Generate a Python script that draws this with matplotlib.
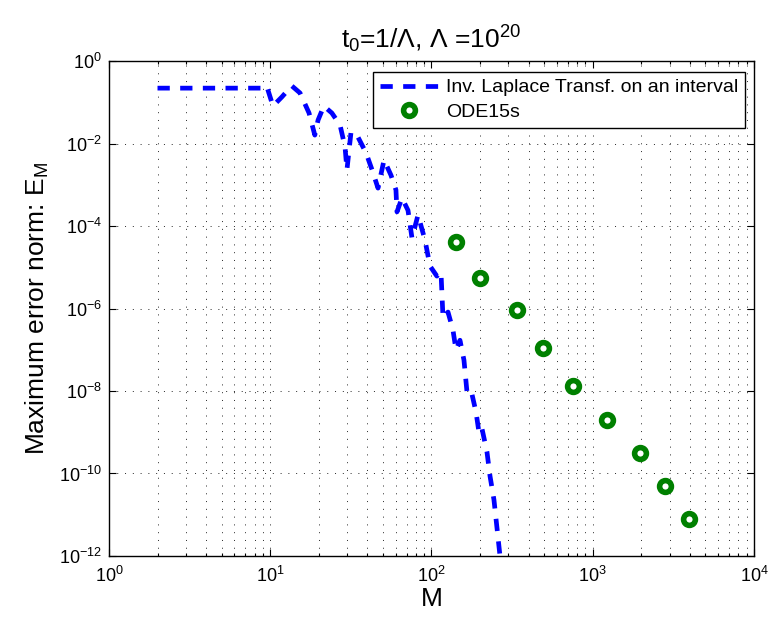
import matplotlib
matplotlib.use('Agg')
import matplotlib.pyplot as plt
from matplotlib.ticker import LogLocator, NullLocator, NullFormatter

plt.rcParams['font.family'] = ['Liberation Sans', 'DejaVu Sans']
plt.rcParams['mathtext.fontset'] = 'custom'
plt.rcParams['mathtext.rm'] = 'Liberation Sans'
plt.rcParams['mathtext.it'] = 'Liberation Sans:italic'
plt.rcParams['mathtext.bf'] = 'Liberation Sans:bold'

# Error of the inverse Laplace transform on an interval vs. number of nodes M
M_ilt = [2.0, 8.9, 9.5, 10.4, 11.8, 13.6, 15.3, 17.4, 18.9, 19.8, 21.5, 24.1,
         27.1, 29.1, 29.9, 31.7, 34.5, 39.3, 42.8, 46.6, 50.8, 56.1, 60.2,
         61.1, 65.6, 71.5, 75.7, 82.5, 91.1, 97.9, 108.0, 114.5, 117.9,
         126.6, 135.9, 141.9, 150.2, 159.0, 166.0, 175.8, 188.8, 197.0,
         205.0, 220.9, 230.6, 244.0, 266.0]
E_ilt = [0.22, 0.22, 0.25, 0.081, 0.134, 0.25, 0.168, 0.055, 0.016, 0.037,
         0.081, 0.055, 0.028, 0.0082, 0.0023, 0.019, 0.016, 0.0059, 0.0023,
         0.00083, 0.0040, 1.7e-3, 7.5e-4, 2.2e-4, 4.8e-4, 2.4e-4, 5.1e-5,
         1.85e-4, 4.6e-5, 1.07e-5, 6.1e-6, 7.7e-6, 5.9e-7, 8.2e-7, 3.0e-7,
         9.9e-8, 1.7e-7, 5.6e-8, 9.5e-9, 1.06e-8, 3.1e-9, 1.0e-9, 1.3e-9,
         3.3e-10, 8.7e-11, 2.3e-11, 1.0e-12]

# ODE15s reference runs
M_ode = [142, 200, 339, 491, 754, 1225, 1963, 2806, 3954]
E_ode = [4.1e-5, 5.5e-6, 9.2e-7, 1.1e-7, 1.3e-8, 2.0e-9, 3.1e-10, 5.0e-11, 7.9e-12]

fig = plt.figure(figsize=(7.69, 6.17), dpi=100)
ax = fig.add_axes([0.1417, 0.0989, 0.8388, 0.8022])

ax.plot(M_ilt, E_ilt, color='#0000ff', lw=3.4, linestyle=(0, (2.6, 2.2)),
        dash_capstyle='butt', label='Inv. Laplace Transf. on an interval')
ax.plot(M_ode, E_ode, linestyle='none', marker='o', ms=8.5, mew=4.0,
        mec='#008000', mfc='white', label='ODE15s')

ax.set_xscale('log')
ax.set_yscale('log')
ax.set_xlim(1, 1e4)
ax.set_ylim(1e-12, 1)

ax.set_yticks([10.0 ** k for k in range(-12, 1, 2)])
ax.yaxis.set_minor_locator(NullLocator())
ax.xaxis.set_major_locator(LogLocator(base=10))
ax.xaxis.set_minor_locator(LogLocator(base=10, subs=range(2, 10)))
ax.xaxis.set_minor_formatter(NullFormatter())

ax.tick_params(which='both', direction='in', top=True, right=True,
               labelsize=13, width=0.8)
ax.tick_params(which='major', length=5)
ax.tick_params(which='minor', length=2.5)
ax.tick_params(axis='x', pad=7)
ax.tick_params(axis='y', pad=5)

grid_style = dict(color='0.15', lw=0.7, linestyle=(0, (1, 7)))
ax.grid(True, which='major', axis='both', **grid_style)
ax.grid(True, which='minor', axis='x', **grid_style)

for s in ax.spines.values():
    s.set_linewidth(1.0)

ax.set_xlabel('M', fontsize=19, labelpad=1)
ax.set_ylabel(r'Maximum error norm: $\mathregular{E_M}$', fontsize=19, labelpad=6)
ax.set_title(r'$\mathregular{t_0}$=1/$\mathregular{\Lambda}$, $\mathregular{\Lambda}$ =$\mathregular{10^{20}}$',
             fontsize=19, pad=9)

leg = ax.legend(loc='upper right', bbox_to_anchor=(0.986, 0.978),
                borderaxespad=0, fontsize=14, handlelength=3.0,
                handletextpad=0.4, labelspacing=0.35, borderpad=0.35,
                fancybox=False, framealpha=1, edgecolor='black')
leg.get_frame().set_linewidth(1.0)

fig.savefig('out.png', dpi=100)
